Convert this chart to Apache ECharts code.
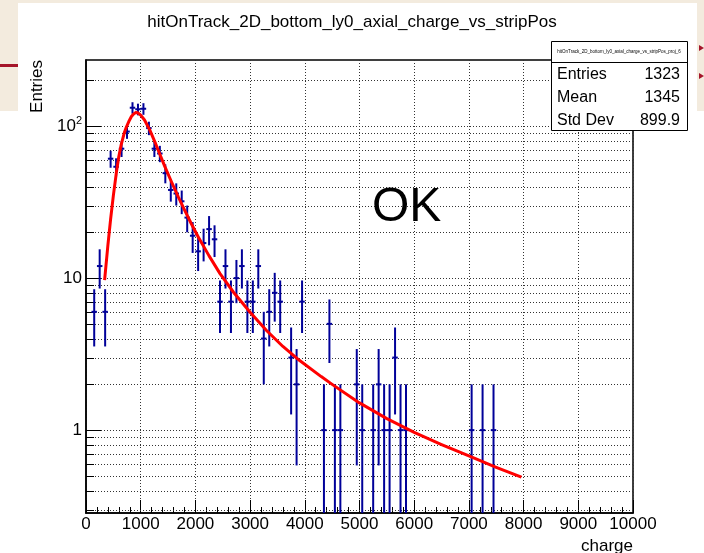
<!DOCTYPE html>
<html>
<head>
<meta charset="utf-8">
<script src="https://cdn.jsdelivr.net/npm/echarts@6/dist/echarts.min.js"></script>
<style>
  html, body { margin: 0; padding: 0; background: #ffffff; }
  #chart { width: 704px; height: 553px; }
</style>
</head>
<body>
<div id="chart"></div>
<script>
// Histogram: bin centres (charge) and entries per bin (empty bins omitted)
const binCharge = [150, 250, 350, 450, 550, 650, 750, 850, 950, 1050, 1150, 1250, 1350, 1450,
  1550, 1650, 1750, 1850, 1950, 2050, 2150, 2250, 2350, 2450, 2550, 2650, 2750, 2850, 2950,
  3050, 3150, 3250, 3350, 3450, 3550, 3750, 3850, 3950, 4350, 4450, 4550, 4650, 4950, 5050,
  5250, 5350, 5450, 5550, 5650, 5750, 5850, 7050, 7250, 7450];
const binEntries = [6, 12, 6, 61, 54, 71, 92, 132, 129, 130, 97, 71, 66, 49,
  38, 36, 32, 25, 19, 15, 17, 21, 18, 7, 12, 7, 10, 12, 7,
  7, 12, 4, 6, 8, 7, 3, 2, 7, 1, 5, 1, 1, 2, 1,
  1, 2, 1, 1, 3, 1, 1, 1, 1, 1];
const binWidth = 100;

// Fitted curve, sampled along charge
const fitCharge = [340, 400, 450, 500, 555, 600, 645, 700, 740, 790, 830, 870, 910, 950,
  1000, 1070, 1165, 1255, 1350, 1440, 1560, 1685, 1805, 1930, 2050, 2250, 2450, 2700,
  3000, 3300, 3600, 3900, 4300, 4500, 5000, 5500, 6000, 6500, 7000, 7500, 7960];
const fitValue = [9.7, 16.4, 24.4, 34.9, 49.4, 63.1, 75.9, 90.2, 98.9, 108.4, 115.6, 120.2, 122.7, 122.2,
  118.0, 109.6, 94.4, 79.4, 65.3, 54.3, 43.2, 34.3, 27.9, 22.6, 18.7, 14.0, 10.7, 8.04,
  5.96, 4.52, 3.55, 2.88, 2.25, 2.0, 1.51, 1.19, 0.966, 0.804, 0.676, 0.569, 0.49];

// Log-axis tick positions (grid drawn at every one) and labelled decades
const yTickValues = [0.3, 0.4, 0.5, 0.6, 0.7, 0.8, 0.9, 1, 2, 3, 4, 5, 6, 7, 8, 9,
  10, 20, 30, 40, 50, 60, 70, 80, 90, 100, 200];
const yDecades = [1, 10, 100];

// Statistics box
const histTitle = 'hitOnTrack_2D_bottom_ly0_axial_charge_vs_stripPos';
const statsName = 'hitOnTrack_2D_bottom_ly0_axial_charge_vs_stripPos_proj_6';
const statsLabels = ['Entries', 'Mean', 'Std Dev'];
const statsValues = ['1323', '1345', '899.9'];

const X_MIN = 0, X_MAX = 10000, Y_MIN = 0.285, Y_MAX = 272;
const FONT = '"Liberation Sans", Arial, Helvetica, sans-serif';
const BLUE = '#000099';

const chart = echarts.init(document.getElementById('chart'), null, { renderer: 'canvas' });

function crisp(v) { return Math.round(v) + 0.5; }

const option = {
  animation: false,
  backgroundColor: '#ffffff',
  textStyle: { fontFamily: FONT },
  grid: {
    left: 86, right: 71, top: 60, bottom: 40,
    show: true, borderColor: '#000', borderWidth: 1.5, backgroundColor: 'transparent'
  },
  xAxis: {
    type: 'value', min: X_MIN, max: X_MAX, interval: 1000,
    axisLine: { show: true, lineStyle: { color: '#000', width: 1.5 } },
    axisTick: { show: true, inside: true, length: 13, lineStyle: { color: '#000', width: 1 } },
    minorTick: { show: true, splitNumber: 5, length: 6, lineStyle: { color: '#000', width: 1 } },
    splitLine: { show: true, lineStyle: { color: '#333', width: 1, type: [1, 2] } },
    axisLabel: {
      color: '#000', fontSize: 17, margin: 3, fontFamily: FONT,
      formatter: function (v) { return String(Math.round(v)); }
    }
  },
  yAxis: {
    type: 'log', logBase: 10, min: Y_MIN, max: Y_MAX,
    axisLine: { show: true, lineStyle: { color: '#000', width: 1.5 } },
    axisTick: { show: false },
    splitLine: { show: false },
    axisLabel: {
      color: '#000', margin: 4, fontFamily: FONT,
      formatter: function (v) {
        const r = Math.round(v);
        if (Math.abs(v - r) > 1e-6 || yDecades.indexOf(r) < 0) return '';
        if (r === 100) return '{b|10}{s|2}';
        return '{b|' + r + '}';
      },
      rich: {
        b: { fontSize: 17, fontFamily: FONT, color: '#000', lineHeight: 20 },
        s: { fontSize: 11, fontFamily: FONT, color: '#000', lineHeight: 20, padding: [0, 0, 10, 0] }
      }
    }
  },
  series: [
    {
      // grid lines and tick marks on the logarithmic axis
      type: 'custom', name: 'yTicks', z: 1, silent: true, clip: false,
      data: yTickValues.map(v => [X_MIN, v]),
      encode: { x: 0, y: 1 },
      renderItem: function (params, api) {
        const v = api.value(1);
        const a = api.coord([X_MIN, v]);
        const b = api.coord([X_MAX, v]);
        const y = crisp(a[1]);
        const major = yDecades.indexOf(Math.round(v)) >= 0 && Math.abs(v - Math.round(v)) < 1e-6;
        return {
          type: 'group',
          children: [
            { type: 'line', shape: { x1: a[0], y1: y, x2: b[0], y2: y },
              style: { stroke: '#333', lineWidth: 1, lineDash: [1, 2] } },
            { type: 'line', shape: { x1: a[0], y1: y, x2: a[0] + (major ? 15 : 8), y2: y },
              style: { stroke: '#000', lineWidth: 1 } }
          ]
        };
      }
    },
    {
      // histogram entries with Poisson error bars
      type: 'custom', name: 'entries', z: 3, clip: true,
      data: binCharge.map((c, i) => [c, binEntries[i]]),
      encode: { x: 0, y: 1 },
      renderItem: function (params, api) {
        const c = api.value(0), n = api.value(1);
        const err = Math.sqrt(n);
        const lo = Math.max(n - err, Y_MIN);
        const hi = n + err;
        const pm = api.coord([c, n]);
        const pl = api.coord([c, lo]);
        const ph = api.coord([c, hi]);
        const xl = api.coord([c - binWidth / 2, n])[0];
        const xr = api.coord([c + binWidth / 2, n])[0];
        const st = { stroke: BLUE, lineWidth: 2 };
        return {
          type: 'group',
          children: [
            { type: 'line', shape: { x1: pm[0], y1: ph[1], x2: pm[0], y2: pl[1] }, style: st },
            { type: 'line', shape: { x1: xl, y1: pm[1], x2: xr, y2: pm[1] }, style: st }
          ]
        };
      }
    },
    {
      type: 'line', name: 'fit', z: 4,
      data: fitCharge.map((c, i) => [c, fitValue[i]]),
      showSymbol: false, smooth: false,
      lineStyle: { color: '#ff0000', width: 3, join: 'round' },
      silent: true
    }
  ],
  graphic: [
    // slide backdrop around the canvas
    { type: 'rect', shape: { x: 0, y: 0, width: 704, height: 3 }, style: { fill: '#f3ebde' }, z: 0 },
    { type: 'rect', shape: { x: 0, y: 0, width: 18, height: 111 }, style: { fill: '#f3ebde' }, z: 0 },
    { type: 'rect', shape: { x: 0, y: 64, width: 18, height: 3 }, style: { fill: '#a5152a' }, z: 0 },
    { type: 'rect', shape: { x: 697, y: 0, width: 7, height: 111 }, style: { fill: '#f3ebde' }, z: 0 },
    { type: 'polygon', shape: { points: [[699, 45], [704, 48], [699, 51]] }, style: { fill: '#a5152a' }, z: 0 },
    { type: 'polygon', shape: { points: [[699, 73], [704, 76], [699, 79]] }, style: { fill: '#a5152a' }, z: 0 },
    // title
    { type: 'text', x: 352, y: 22, z: 10,
      style: { text: histTitle, fontSize: 17, fontFamily: FONT, fill: '#000', align: 'center', verticalAlign: 'middle' } },
    // axis titles
    { type: 'text', x: 37, y: 60, rotation: Math.PI / 2, z: 10,
      style: { text: 'Entries', fontSize: 17, fontFamily: FONT, fill: '#000', align: 'right', verticalAlign: 'middle' } },
    { type: 'text', x: 633, y: 555, z: 10,
      style: { text: 'charge', fontSize: 17, fontFamily: FONT, fill: '#000', align: 'right', verticalAlign: 'bottom' } },
    // status text
    { type: 'text', x: 372, y: 208, z: 10,
      style: { text: 'OK', fontSize: 48, fontFamily: FONT, fill: '#000', align: 'left', verticalAlign: 'middle' } },
    // statistics box
    { type: 'rect', shape: { x: 551.5, y: 41.5, width: 136, height: 89 }, z: 20,
      style: { fill: '#fff', stroke: '#000', lineWidth: 1 } },
    { type: 'line', shape: { x1: 551.5, y1: 62.5, x2: 687.5, y2: 62.5 }, z: 21,
      style: { stroke: '#000', lineWidth: 1 } },
    { type: 'text', x: 619, y: 52, z: 21,
      style: { text: statsName, fontSize: 4.5, fontFamily: FONT, fill: '#000', align: 'center', verticalAlign: 'middle' } }
  ].concat(statsLabels.map((t, i) => ({
    type: 'text', x: 557, y: 75 + i * 23, z: 21,
    style: { text: t, fontSize: 16, fontFamily: FONT, fill: '#000', align: 'left', verticalAlign: 'middle' }
  }))).concat(statsValues.map((t, i) => ({
    type: 'text', x: 680, y: 75 + i * 23, z: 21,
    style: { text: t, fontSize: 16, fontFamily: FONT, fill: '#000', align: 'right', verticalAlign: 'middle' }
  })))
};

chart.setOption(option);
</script>
</body>
</html>
